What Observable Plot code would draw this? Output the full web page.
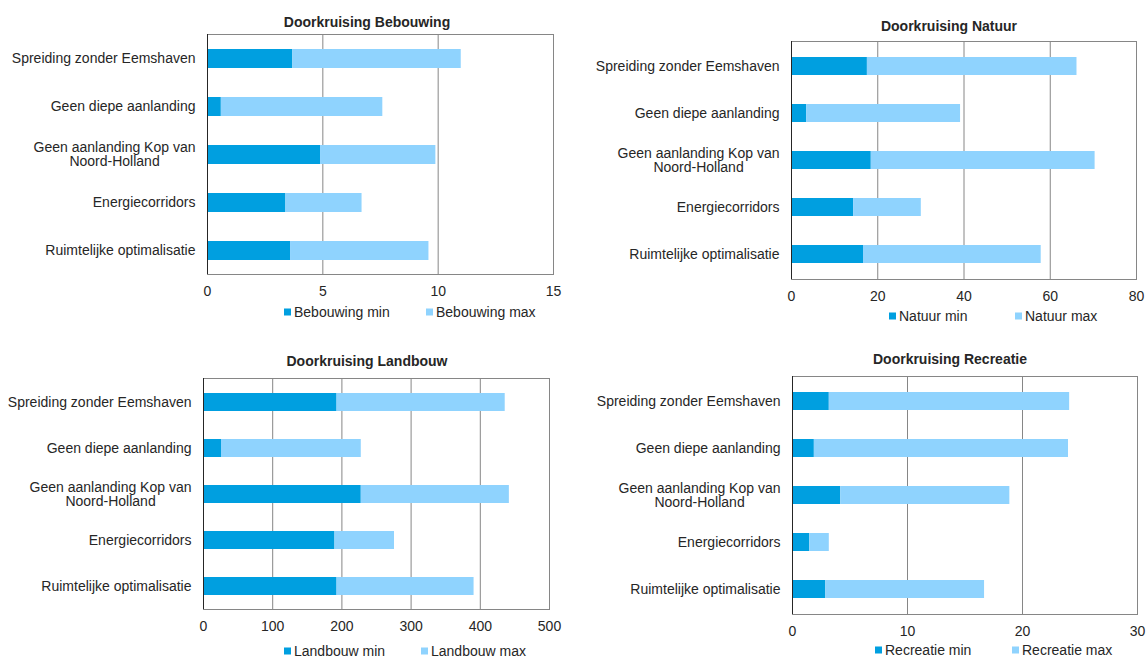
<!DOCTYPE html>
<html><head><meta charset="utf-8">
<script src="https://cdn.jsdelivr.net/npm/d3@7"></script>
<script src="https://cdn.jsdelivr.net/npm/@observablehq/plot@0.6"></script>
<style>
body{margin:0;background:#fff;font-family:"Liberation Sans",Arial,sans-serif;color:#262626;}
#root{position:relative;width:1146px;height:659px;overflow:hidden;background:#fff;}
.panel{position:absolute;}
.panel svg{overflow:visible;}
.title{position:absolute;font-weight:bold;font-size:14px;transform:translate(-50%,-50%);white-space:nowrap;}
.leg{position:absolute;font-size:14px;transform:translateY(-50%);white-space:nowrap;display:flex;align-items:center;line-height:15px;}
.sw{display:inline-block;width:7px;height:7px;margin-right:3px;}
</style></head>
<body><div id="root"></div>
<script>
// ---- data ----
const categories = ["Spreiding zonder Eemshaven","Geen diepe aanlanding","Geen aanlanding Kop van\nNoord-Holland","Energiecorridors","Ruimtelijke optimalisatie"];
const bebouwingMin = [3.7, 0.6, 4.9, 3.4, 3.6];
const bebouwingMax = [11.0, 7.6, 9.9, 6.7, 9.6];
const natuurMin = [17.6, 3.5, 18.5, 14.4, 16.7];
const natuurMax = [66.2, 39.2, 70.4, 30.1, 57.9];
const landbouwMin = [193, 26, 228, 190, 193];
const landbouwMax = [436, 228, 442, 276, 391];
const recreatieMin = [3.2, 1.9, 4.2, 1.5, 2.9];
const recreatieMax = [24.1, 24.0, 18.9, 3.2, 16.7];
const bebouwingTicks = [0, 5, 10, 15];
const natuurTicks = [0, 20, 40, 60, 80];
const landbouwTicks = [0, 100, 200, 300, 400, 500];
const recreatieTicks = [0, 10, 20, 30];
const titles = ["Doorkruising Bebouwing","Doorkruising Natuur","Doorkruising Landbouw","Doorkruising Recreatie"];
const seriesNames = ["Bebouwing","Natuur","Landbouw","Recreatie"];

const darkBlue = "#009fe0", lightBlue = "#8fd3fe";

// ---- layout ----
const panels = [
  {mins: bebouwingMin, maxs: bebouwingMax, ticks: bebouwingTicks,
   left: 0, top: 0, width: 573, height: 300, mL: 207, mR: 20, mT: 34, mB: 26,
   title: [367, 22], leg: {y: 312, x1: 284, x2: 426}},
  {mins: natuurMin, maxs: natuurMax, ticks: natuurTicks,
   left: 573, top: 0, width: 573, height: 305, mL: 218, mR: 10, mT: 41, mB: 26,
   title: [949, 26], leg: {y: 316, x1: 889, x2: 1015}},
  {mins: landbouwMin, maxs: landbouwMax, ticks: landbouwTicks,
   left: 0, top: 330, width: 573, height: 305, mL: 203, mR: 24, mT: 48, mB: 26,
   title: [367, 361], leg: {y: 651, x1: 284, x2: 421}},
  {mins: recreatieMin, maxs: recreatieMax, ticks: recreatieTicks,
   left: 573, top: 330, width: 573, height: 310, mL: 219, mR: 9, mT: 46, mB: 26,
   title: [950, 359], leg: {y: 650, x1: 875, x2: 1012}}
];

const root = document.getElementById("root");

panels.forEach((p, k) => {
  const rows = categories.flatMap((c, i) => [
    {cat: c, series: "min", x1: 0, x2: p.mins[i]},
    {cat: c, series: "max", x1: p.mins[i], x2: p.maxs[i]}
  ]);
  const xmax = p.ticks[p.ticks.length - 1];
  const chart = Plot.plot({
    width: p.width, height: p.height,
    marginLeft: p.mL, marginRight: p.mR, marginTop: p.mT, marginBottom: p.mB,
    style: {fontFamily: '"Liberation Sans", Arial, sans-serif', fontSize: "14px", color: "#262626", background: "transparent"},
    x: {domain: [0, xmax], ticks: p.ticks},
    y: {domain: categories, paddingInner: 0.61, paddingOuter: 0.305, label: null},
    color: {domain: ["min", "max"], range: [darkBlue, lightBlue]},
    marks: [
      Plot.gridX(p.ticks, {stroke: "#868686", strokeOpacity: 1}),
      Plot.barX(rows, {y: "cat", x1: "x1", x2: "x2", fill: "series"}),
      Plot.frame({stroke: "#868686"}),
      Plot.ruleX([0], {stroke: "#262626"}),
      Plot.axisX({ticks: p.ticks, tickSize: 0, tickPadding: 12, label: null, fontSize: 14}),
      Plot.axisY({tickSize: 0, tickPadding: 12, label: null, fontSize: 14})
    ]
  });
  const div = document.createElement("div");
  div.className = "panel";
  div.style.left = p.left + "px";
  div.style.top = p.top + "px";
  div.appendChild(chart);
  root.appendChild(div);

  // center multi-line category labels like the original
  chart.querySelectorAll("text").forEach(t => {
    const spans = t.querySelectorAll("tspan");
    if (spans.length > 1) {
      let w = 0;
      spans.forEach(s => { w = Math.max(w, s.getComputedTextLength()); });
      t.setAttribute("text-anchor", "middle");
      spans.forEach(s => s.setAttribute("x", -w / 2));
    }
  });

  const title = document.createElement("div");
  title.className = "title";
  title.textContent = titles[k];
  title.style.left = p.title[0] + "px";
  title.style.top = p.title[1] + "px";
  root.appendChild(title);

  [["min", darkBlue, p.leg.x1], ["max", lightBlue, p.leg.x2]].forEach(([s, col, x]) => {
    const l = document.createElement("div");
    l.className = "leg";
    l.style.left = x + "px";
    l.style.top = p.leg.y + "px";
    l.innerHTML = `<span class="sw" style="background:${col}"></span><span>${seriesNames[k]} ${s}</span>`;
    root.appendChild(l);
  });
});
</script>
</body></html>
